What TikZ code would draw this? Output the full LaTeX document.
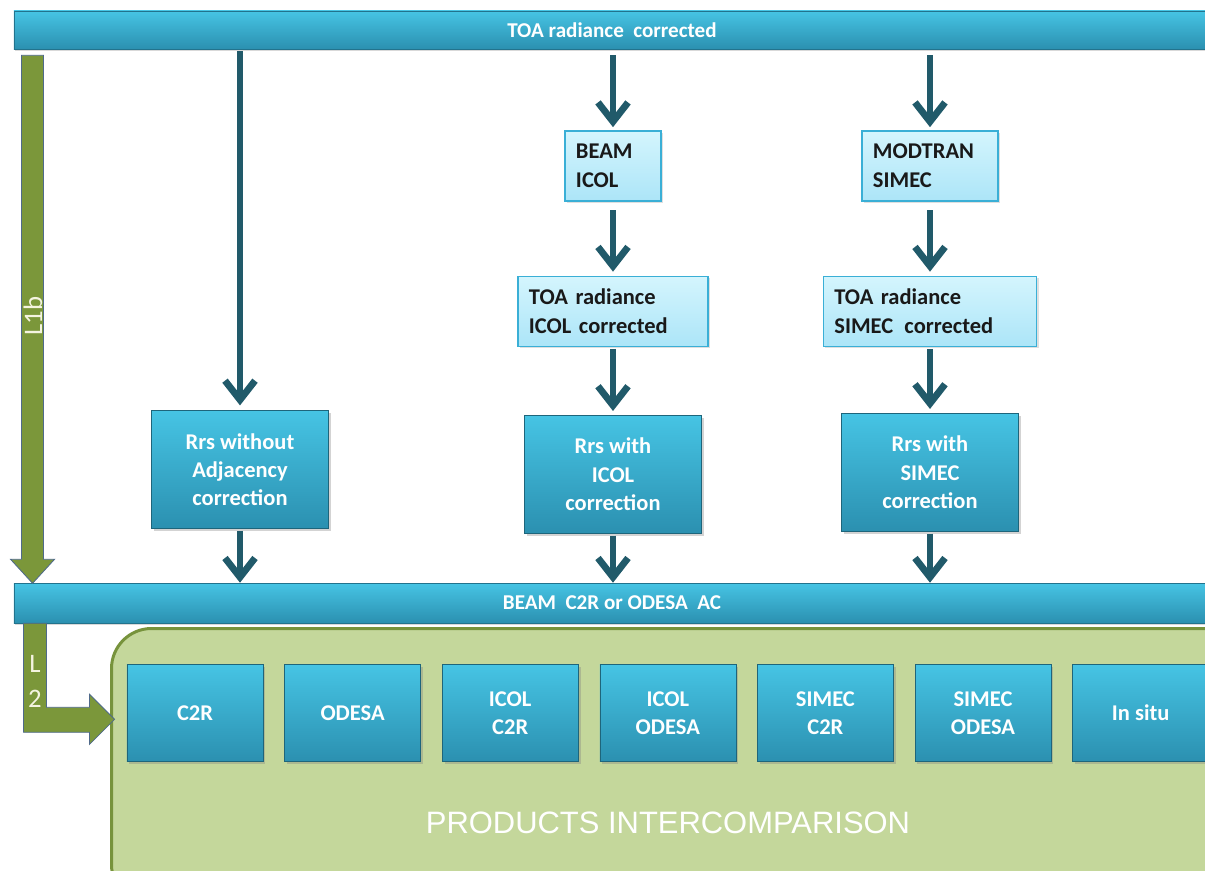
\documentclass[tikz,border=0pt]{standalone}
\usepackage{fontspec}
\setmainfont{Carlito}
\newfontfamily\arialfont{Liberation Sans}
\usepackage{xcolor}
\usetikzlibrary{arrows.meta,positioning,shadows}
\definecolor{barTop}{HTML}{46C4E4}
\definecolor{barBot}{HTML}{2B90B0}
\definecolor{lightTop}{HTML}{D4F5FD}
\definecolor{lightBot}{HTML}{ACE5F8}
\definecolor{lightEdge}{HTML}{3AAFD6}
\definecolor{arrowCol}{HTML}{215A6A}
\definecolor{greenFill}{HTML}{7B973A}
\definecolor{greenEdge}{HTML}{4F6A8A}
\definecolor{regionFill}{HTML}{C4D79B}
\definecolor{regionEdge}{HTML}{77933C}
\definecolor{labelCol}{HTML}{F4F4E0}
\tikzset{
    bar/.style={rectangle, top color=barTop, bottom color=barBot, draw=barBot!80!black, line width=0.4pt, text=white, font=\fontsize{15}{18}\selectfont\bfseries, minimum width=29.9cm, minimum height=0.95cm, drop shadow={opacity=0.3, shadow xshift=0.04cm, shadow yshift=-0.05cm}},
    darkbox/.style={rectangle, top color=barTop, bottom color=barBot, draw=barBot!70!black, line width=0.4pt, text=white, font=\fontsize{16}{20}\selectfont\bfseries, align=center, minimum width=4.425cm, minimum height=2.95cm, drop shadow={opacity=0.35, shadow xshift=0.06cm, shadow yshift=-0.06cm}},
    prodbox/.style={darkbox, minimum width=3.4cm, minimum height=2.425cm},
    lightbox/.style={rectangle, top color=lightTop, bottom color=lightBot, draw=lightEdge, line width=0.9pt, text=black!90, font=\fontsize{16}{20.5}\selectfont\bfseries, align=left, inner xsep=0.275cm, minimum height=1.75cm, drop shadow={opacity=0.25, shadow xshift=0.05cm, shadow yshift=-0.05cm}},
    line/.style={draw=arrowCol, line width=0.17cm, -{Straight Barb[length=0.48cm, width=0.75cm]}},
    greenarrow/.style={fill=greenFill, draw=greenEdge, line width=0.6pt},
    region/.style={rectangle, rounded corners=1cm, fill=regionFill, draw=regionEdge, line width=0.075cm}
}
\begin{document}
\begin{tikzpicture}[x=0.025cm, y=-0.025cm]
    \useasboundingbox (0,0) rectangle (1205,870);
    % comparison area
    \node[region, minimum width=28.25cm, minimum height=6.9cm, anchor=north west] (cmp) at (110,627) {};
    % bars
    \node[bar] (toa) at (612,30) {TOA radiance\ \ corrected};
    \node[bar, minimum height=1cm] (ac) at (612,603) {BEAM\ \ C2R or ODESA\ \ AC};
    % no adjacency correction
    \node[darkbox] (rrsno) at (240,469.5) {Rrs without\\Adjacency\\correction};
    % ICOL branch
    \node[lightbox, text width=1.85cm] (beamicol) at (613,166) {BEAM\\ICOL};
    \node[lightbox, text width=4.2cm, below=1.85cm of beamicol] (toaicol) {TOA radiance\\ICOL corrected};
    \node[darkbox, below=1.7cm of toaicol] (rrsicol) {Rrs with\\ICOL\\correction};
    % SIMEC branch
    \node[lightbox, text width=2.85cm] (modtran) at (930,166) {MODTRAN\\SIMEC};
    \node[lightbox, text width=4.78cm, below=1.85cm of modtran] (toasimec) {TOA radiance\\SIMEC\,\ corrected};
    \node[darkbox, below=1.65cm of toasimec] (rrssimec) {Rrs with\\SIMEC\\correction};
    % products
    \node[prodbox] (c2r) at (195,713) {C2R};
    \node[prodbox, right=0.525cm of c2r] (odesa) {ODESA};
    \node[prodbox, right=0.525cm of odesa] (icolc2r) {ICOL\\C2R};
    \node[prodbox, right=0.525cm of icolc2r] (icolodesa) {ICOL\\ODESA};
    \node[prodbox, right=0.525cm of icolodesa] (simecc2r) {SIMEC\\C2R};
    \node[prodbox, right=0.525cm of simecc2r] (simecodesa) {SIMEC\\ODESA};
    \node[prodbox, right=0.525cm of simecodesa] (insitu) {In situ};
    \node[font=\arialfont\fontsize{22}{26}\selectfont, text=white] (pi) at (668,823) {PRODUCTS INTERCOMPARISON};

    % level arrows
    \draw[greenarrow] ([xshift=0.2cm, yshift=-0.15cm]toa.south west) -- ++(22,0) -- ++(0,504) -- ++(11,0) -- ++(-22,24) -- ++(-22,-24) -- ++(11,0) -- cycle;
    \node[rotate=90, text=labelCol, font=\fontsize{19}{22}\selectfont] (l1b) at (33,316) {L1b};
    \draw[greenarrow] ([xshift=0.25cm]ac.south west) -- ++(23,0) -- ++(0,84) -- ++(43,0) -- ++(0,-13) -- ++(25,25) -- ++(-25,25) -- ++(0,-12) -- ++(-66,0) -- cycle;
    \node[text=labelCol, font=\fontsize{19}{25}\selectfont, align=center] (l2) at (35,681) {L\\2};

    \draw[line, shorten <=0.05cm, shorten >=0.12cm] (rrsno.north |- toa.south) -- (rrsno.north);
    \draw[line, shorten <=0.05cm] (rrsno.south) -- (rrsno.south |- ac.north);
    \draw[line, shorten <=0.15cm, shorten >=0.08cm] (beamicol.north |- toa.south) -- (beamicol.north);
    \draw[line, shorten <=0.22cm, shorten >=0.1cm] (beamicol) -- (toaicol);
    \draw[line, shorten <=0.05cm, shorten >=0.1cm] (toaicol) -- (rrsicol);
    \draw[line, shorten <=0.05cm] (rrsicol.south) -- (rrsicol.south |- ac.north);
    \draw[line, shorten <=0.15cm, shorten >=0.08cm] (modtran.north |- toa.south) -- (modtran.north);
    \draw[line, shorten <=0.22cm, shorten >=0.1cm] (modtran) -- (toasimec);
    \draw[line, shorten <=0.05cm, shorten >=0.1cm] (toasimec) -- (rrssimec);
    \draw[line, shorten <=0.05cm] (rrssimec.south) -- (rrssimec.south |- ac.north);
\end{tikzpicture}
\end{document}
